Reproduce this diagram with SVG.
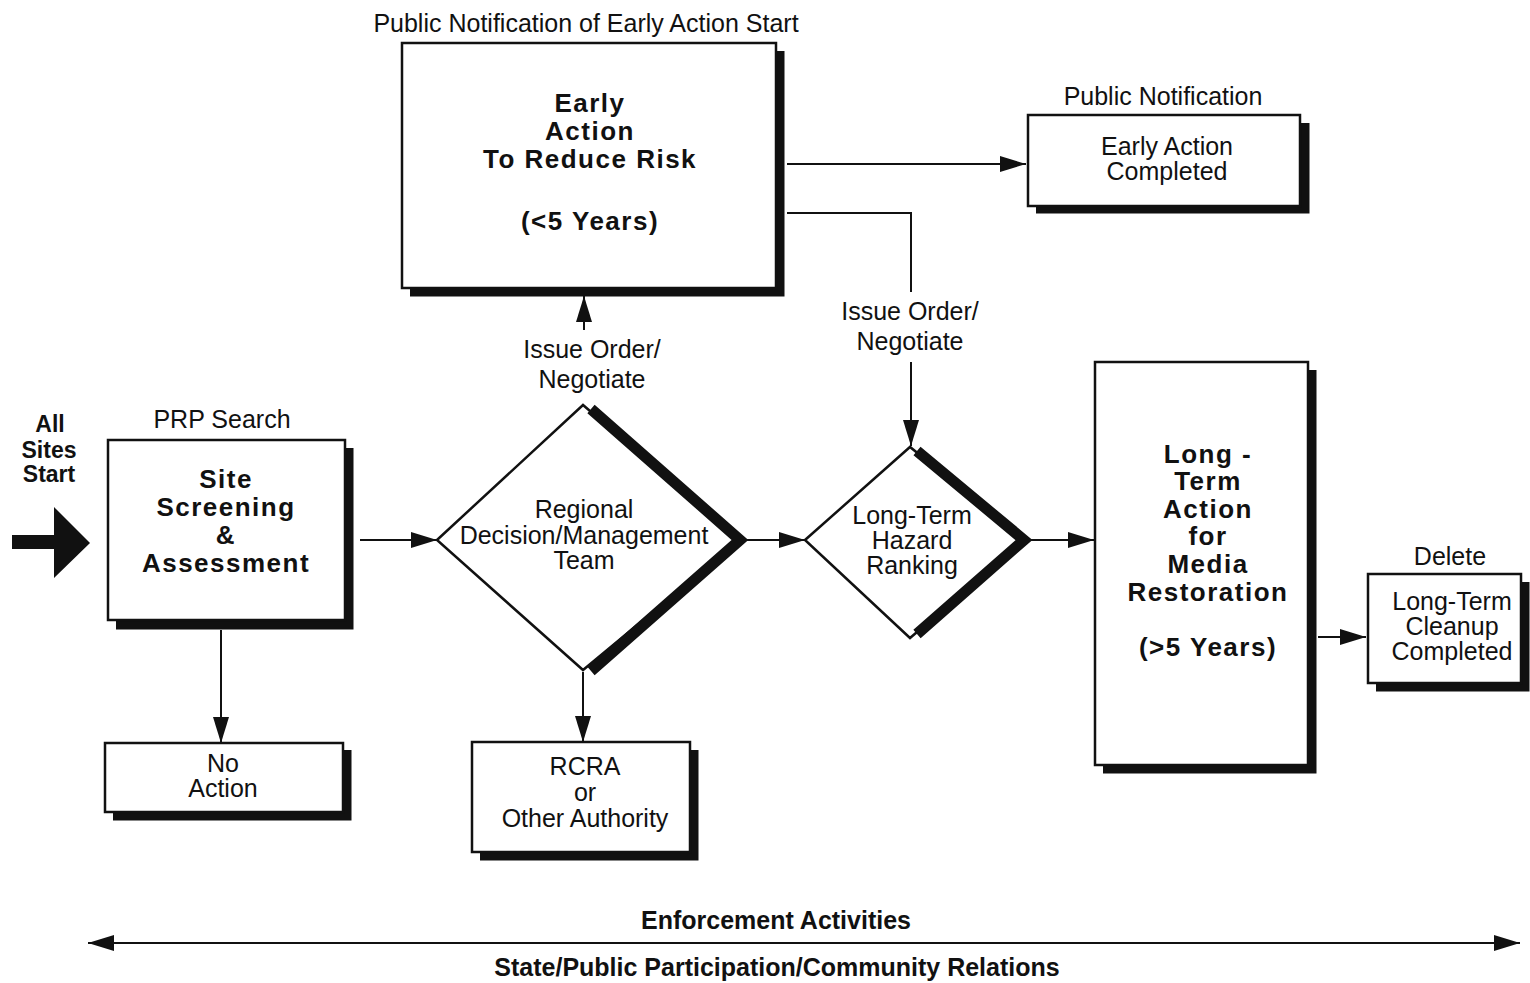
<svg xmlns="http://www.w3.org/2000/svg" width="1530" height="983" viewBox="0 0 1530 983">
<style>
text{font-family:"Liberation Sans",Arial,sans-serif;fill:#111;text-anchor:middle}
.t{font-size:25px}
.b{font-size:26px;font-weight:bold;letter-spacing:1.5px}
.bl{font-size:25px;font-weight:bold}
.s{font-size:23px;font-weight:bold}
.box{fill:#fff;stroke:#111;stroke-width:2.5}
.sh{fill:none;stroke:#111;stroke-width:9;stroke-linejoin:miter}
.dsh{fill:none;stroke:#111;stroke-width:11;stroke-linejoin:miter}
.ln{fill:none;stroke:#111;stroke-width:2}
.arr{marker-end:url(#ah)}
</style>
<defs>
<marker id="ah" markerUnits="userSpaceOnUse" markerWidth="28" markerHeight="18" refX="26" refY="8" orient="auto">
<path d="M0,0 L26,8 L0,16 Z" fill="#111"/>
</marker>
<marker id="ahs" markerUnits="userSpaceOnUse" markerWidth="28" markerHeight="18" refX="26" refY="8" orient="auto-start-reverse">
<path d="M0,0 L26,8 L0,16 Z" fill="#111"/>
</marker>
</defs>
<rect width="1530" height="983" fill="#fff"/>

<g id="start">
<text class="s" x="50" y="432">All</text>
<text class="s" x="49" y="458">Sites</text>
<text class="s" x="49" y="482">Start</text>
<polygon points="12,535 54,535 54,507 90,543 54,578 54,549 12,549" fill="#111"/>
</g>

<g id="site-screening">
<text class="t" x="222" y="428">PRP Search</text>
<path class="sh" d="M116,625 H349 V448"/>
<rect class="box" x="108" y="440" width="237" height="180"/>
<text class="b" x="226" y="488">Site</text>
<text class="b" x="226" y="516">Screening</text>
<text class="b" x="226" y="544">&amp;</text>
<text class="b" x="226" y="572">Assessment</text>
</g>

<g id="no-action">
<path class="sh" d="M113,816 H347 V750"/>
<rect class="box" x="105" y="743" width="238" height="69"/>
<text class="t" x="223" y="772">No</text>
<text class="t" x="223" y="797">Action</text>
</g>

<g id="regional-team">
<polygon class="box" points="437,540 583,405 740,540 583,670"/>
<polyline class="dsh" points="591,409 740,540 591,671"/>
<text class="t" x="584" y="518">Regional</text>
<text class="t" x="584" y="544">Decision/Management</text>
<text class="t" x="584" y="569">Team</text>
</g>

<g id="rcra">
<path class="sh" d="M480,856 H694 V750"/>
<rect class="box" x="472" y="742" width="218" height="110"/>
<text class="t" x="585" y="775">RCRA</text>
<text class="t" x="585" y="801">or</text>
<text class="t" x="585" y="827">Other Authority</text>
</g>

<g id="early-action">
<text class="t" x="586" y="32">Public Notification of Early Action Start</text>
<path class="sh" d="M410,292 H780 V51"/>
<rect class="box" x="402" y="43" width="374" height="245"/>
<text class="b" x="590" y="112">Early</text>
<text class="b" x="590" y="140">Action</text>
<text class="b" x="590" y="168">To Reduce Risk</text>
<text class="b" x="590" y="230">(&lt;5 Years)</text>
</g>

<g id="early-completed">
<text class="t" x="1163" y="105">Public Notification</text>
<path class="sh" d="M1036,209 H1305 V123"/>
<rect class="box" x="1028" y="115" width="272" height="91"/>
<text class="t" x="1167" y="155">Early Action</text>
<text class="t" x="1167" y="180">Completed</text>
</g>

<g id="hazard-ranking">
<polygon class="box" points="805,540 910,447 1025,540 910,638"/>
<polyline class="dsh" points="917,451 1024,540 917,634"/>
<text class="t" x="912" y="524">Long-Term</text>
<text class="t" x="912" y="549">Hazard</text>
<text class="t" x="912" y="574">Ranking</text>
</g>

<g id="long-term-action">
<path class="sh" d="M1103,769 H1312 V370"/>
<rect class="box" x="1095" y="362" width="213" height="403"/>
<text class="b" x="1208" y="463">Long -</text>
<text class="b" x="1208" y="490">Term</text>
<text class="b" x="1208" y="518">Action</text>
<text class="b" x="1208" y="545">for</text>
<text class="b" x="1208" y="573">Media</text>
<text class="b" x="1208" y="601">Restoration</text>
<text class="b" x="1208" y="656">(&gt;5 Years)</text>
</g>

<g id="delete">
<text class="t" x="1450" y="565">Delete</text>
<path class="sh" d="M1376,687 H1525 V582"/>
<rect class="box" x="1368" y="574" width="153" height="109"/>
<text class="t" x="1452" y="610">Long-Term</text>
<text class="t" x="1452" y="635">Cleanup</text>
<text class="t" x="1452" y="660">Completed</text>
</g>

<g id="connectors">
<line class="ln arr" x1="360" y1="540" x2="437" y2="540"/>
<line class="ln arr" x1="221" y1="630" x2="221" y2="743"/>
<line class="ln arr" x1="583" y1="672" x2="583" y2="742"/>
<line class="ln arr" x1="584" y1="330" x2="584" y2="296"/>
<text class="t" x="592" y="358">Issue Order/</text>
<text class="t" x="592" y="388">Negotiate</text>
<line class="ln arr" x1="787" y1="164" x2="1026" y2="164"/>
<polyline class="ln" points="787,213 911,213 911,292"/>
<text class="t" x="910" y="320">Issue Order/</text>
<text class="t" x="910" y="350">Negotiate</text>
<line class="ln arr" x1="911" y1="362" x2="911" y2="446"/>
<line class="ln arr" x1="745" y1="540" x2="805" y2="540"/>
<line class="ln arr" x1="1028" y1="540" x2="1094" y2="540"/>
<line class="ln arr" x1="1318" y1="637" x2="1366" y2="637"/>
<line class="ln" x1="88" y1="943" x2="1520" y2="943" marker-start="url(#ahs)" marker-end="url(#ah)"/>
<text class="bl" x="776" y="929">Enforcement Activities</text>
<text class="bl" x="777" y="976">State/Public Participation/Community Relations</text>
</g>
</svg>
